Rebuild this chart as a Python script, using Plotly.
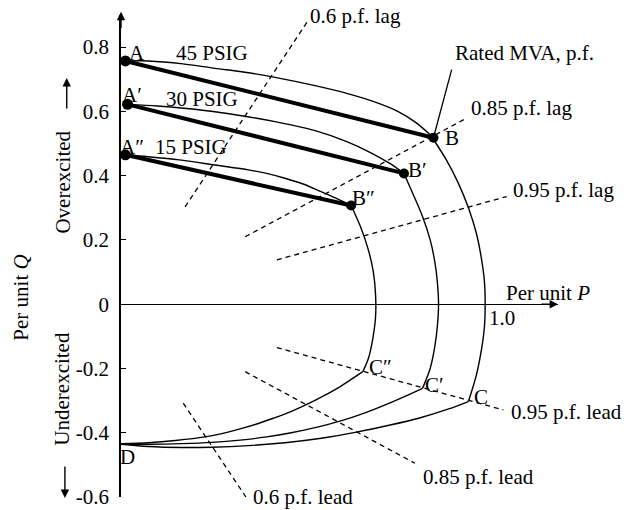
import plotly.graph_objects as go

# ---------------- data (per unit P, per unit Q) ----------------
# field-heating limit arcs A -> B
arc45_p = [0.012, 0.075, 0.170, 0.258, 0.340, 0.423, 0.533, 0.620, 0.700, 0.760, 0.810, 0.858]
arc45_q = [0.757, 0.757, 0.748, 0.734, 0.722, 0.706, 0.680, 0.656, 0.628, 0.600, 0.565, 0.518]
arc30_p = [0.018, 0.100, 0.180, 0.258, 0.340, 0.423, 0.533, 0.620, 0.685, 0.738, 0.777]
arc30_q = [0.622, 0.617, 0.609, 0.599, 0.585, 0.568, 0.540, 0.506, 0.472, 0.438, 0.407]
arc15_p = [0.012, 0.074, 0.160, 0.258, 0.350, 0.400, 0.450, 0.500, 0.546, 0.590, 0.632]
arc15_q = [0.465, 0.459, 0.449, 0.433, 0.418, 0.407, 0.392, 0.374, 0.352, 0.330, 0.307]

# armature current limit arcs B -> C
arm45_p = [0.855, 0.893, 0.925, 0.954, 0.976, 0.990, 0.998, 1.000, 0.998, 0.990, 0.976, 0.954]
arm45_q = [0.518, 0.450, 0.380, 0.300, 0.220, 0.140, 0.070, 0.000, -0.070, -0.140, -0.220, -0.303]
arm30_p = [0.777, 0.803, 0.829, 0.849, 0.862, 0.869, 0.872, 0.869, 0.862, 0.849, 0.828]
arm30_q = [0.407, 0.340, 0.270, 0.200, 0.130, 0.065, 0.000, -0.065, -0.130, -0.200, -0.262]
arm15_p = [0.632, 0.658, 0.679, 0.693, 0.699, 0.699, 0.691, 0.679, 0.664]
arm15_q = [0.307, 0.240, 0.170, 0.100, 0.030, -0.040, -0.110, -0.170, -0.210]

# core-end heating limit arcs C -> D
low45_p = [0.954, 0.900, 0.820, 0.739, 0.647, 0.550, 0.450, 0.350, 0.250, 0.167, 0.075, 0.000]
low45_q = [-0.303, -0.326, -0.354, -0.376, -0.398, -0.417, -0.431, -0.440, -0.445, -0.446, -0.443, -0.436]
low30_p = [0.828, 0.780, 0.739, 0.670, 0.601, 0.530, 0.464, 0.400, 0.327, 0.250, 0.167, 0.080, 0.000]
low30_q = [-0.262, -0.287, -0.307, -0.338, -0.364, -0.385, -0.401, -0.413, -0.423, -0.430, -0.434, -0.436, -0.435]
low15_p = [0.664, 0.601, 0.555, 0.510, 0.465, 0.418, 0.375, 0.327, 0.280, 0.231, 0.150, 0.075, 0.000]
low15_q = [-0.210, -0.257, -0.286, -0.312, -0.335, -0.355, -0.372, -0.388, -0.402, -0.413, -0.424, -0.431, -0.434]

# operating points A and B
pointA_p = [0.012, 0.018, 0.012]
pointA_q = [0.757, 0.622, 0.465]
pointB_p = [0.858, 0.777, 0.632]
pointB_q = [0.518, 0.407, 0.307]

# power factor lines (segment end points)
pf_names = ["0.6 p.f. lag", "0.85 p.f. lag", "0.95 p.f. lag",
            "0.95 p.f. lead", "0.85 p.f. lead", "0.6 p.f. lead"]
pf_p0 = [0.176, 0.341, 0.428, 0.428, 0.341, 0.171]
pf_q0 = [0.303, 0.210, 0.138, -0.135, -0.210, -0.308]
pf_p1 = [0.511, 0.949, 1.059, 1.050, 0.807, 0.343]
pf_q1 = [0.878, 0.579, 0.335, -0.329, -0.495, -0.600]

# rated MVA leader line
lead_p = [0.858, 0.908]
lead_q = [0.518, 0.730]

y_ticks = [0.8, 0.6, 0.4, 0.2, 0, -0.2, -0.4, -0.6]
y_tick_text = ["0.8", "0.6", "0.4", "0.2", "0", "-0.2", "-0.4", "-0.6"]

X_RANGE = [0.0, 1.2]
Y_RANGE = [-0.6, 0.9]

FONT = "Liberation Serif, Times New Roman, serif"
FS = 21

fig = go.Figure()

def line(px, py, width=1.3, dash="solid", shape="spline"):
    fig.add_trace(go.Scatter(x=px, y=py, mode="lines",
                             line=dict(color="black", width=width, dash=dash,
                                       shape=shape, smoothing=0.8),
                             hoverinfo="skip", showlegend=False))

for px, py in [(arc45_p, arc45_q), (arc30_p, arc30_q), (arc15_p, arc15_q),
               (arm45_p, arm45_q), (arm30_p, arm30_q), (arm15_p, arm15_q),
               (low45_p, low45_q), (low30_p, low30_q), (low15_p, low15_q)]:
    line(px, py, width=1.4)

for i in range(len(pf_names)):
    line([pf_p0[i], pf_p1[i]], [pf_q0[i], pf_q1[i]], width=1.3,
         dash="5px,4px", shape="linear")

line(lead_p, lead_q, width=1.3, shape="linear")

# thick straight lines A-B
for i in range(3):
    line([pointA_p[i], pointB_p[i]], [pointA_q[i], pointB_q[i]],
         width=4, shape="linear")

fig.add_trace(go.Scatter(x=pointA_p, y=pointA_q, mode="markers",
                         marker=dict(color="black", size=11),
                         hoverinfo="skip", showlegend=False, cliponaxis=False))
fig.add_trace(go.Scatter(x=pointB_p, y=pointB_q, mode="markers",
                         marker=dict(color="black", size=10),
                         hoverinfo="skip", showlegend=False, cliponaxis=False))

def to_paper(x, y):
    return ((x - X_RANGE[0]) / (X_RANGE[1] - X_RANGE[0]),
            (y - Y_RANGE[0]) / (Y_RANGE[1] - Y_RANGE[0]))

ann = []
def txt(x, y, s, angle=0, xanchor="center", size=FS):
    px, py = to_paper(x, y)
    ann.append(dict(x=px, y=py, xref="paper", yref="paper", text=s,
                    showarrow=False, textangle=angle, xanchor=xanchor,
                    yanchor="middle", borderpad=0,
                    font=dict(family=FONT, size=size, color="black")))

txt(0.045, 0.781, "A")
txt(0.250, 0.781, "45 PSIG")
txt(0.031, 0.651, "A′")
txt(0.223, 0.638, "30 PSIG")
txt(0.031, 0.490, "A″")
txt(0.192, 0.490, "15 PSIG")
txt(0.910, 0.516, "B")
txt(0.814, 0.418, "B′")
txt(0.667, 0.330, "B″")
txt(0.713, -0.195, "C″")
txt(0.860, -0.251, "C′")
txt(0.988, -0.288, "C")
txt(0.018, -0.475, "D")
txt(1.173, 0.036, "Per unit <i>P</i>")
txt(1.045, -0.044, "1.0")
txt(1.107, 0.782, "Rated MVA, p.f.")
txt(0.643, 0.898, pf_names[0])
txt(1.101, 0.611, pf_names[1])
txt(1.075, 0.355, pf_names[2], xanchor="left")
txt(1.068, -0.335, pf_names[3], xanchor="left")
txt(0.983, -0.537, pf_names[4])
txt(0.500, -0.599, pf_names[5])
txt(-0.275, 0.020, "Per unit <i>Q</i>", angle=-90)
txt(-0.158, 0.380, "Overexcited", angle=-90)
txt(-0.163, -0.264, "Underexcited", angle=-90)

# arrows
def arrow(x, y, ax, ay):
    px, py = to_paper(x, y)
    ann.append(dict(x=px, y=py, xref="paper", yref="paper", text="",
                    showarrow=True, arrowhead=2, arrowsize=1.2,
                    arrowwidth=1.4, arrowcolor="black", ax=ax, ay=ay))

arrow(0, 0.91, 0, 18)
arrow(1.2, 0, -18, 0)
arrow(-0.149, 0.704, 0, 32)
arrow(-0.154, -0.603, 0, -33)

fig.update_layout(
    width=629, height=510,
    margin=dict(l=121, r=71, t=15, b=13, autoexpand=False),
    paper_bgcolor="white", plot_bgcolor="white",
    showlegend=False,
    annotations=ann,
    xaxis=dict(range=X_RANGE, visible=False, fixedrange=True,
               automargin=False),
    yaxis=dict(range=Y_RANGE, showgrid=False, zeroline=True,
               zerolinecolor="black", zerolinewidth=1.4,
               showline=True, linecolor="black", linewidth=1.5,
               ticks="inside", ticklen=5, tickwidth=1.3, tickcolor="black",
               tickvals=y_ticks, ticktext=y_tick_text,
               ticklabelstandoff=6, automargin=False,
               tickfont=dict(family=FONT, size=FS, color="black"),
               fixedrange=True),
)

fig.write_html("out.html", config={"displayModeBar": False},
               post_script="document.body.style.margin='0px';"
                           "document.body.style.overflow='hidden';")
